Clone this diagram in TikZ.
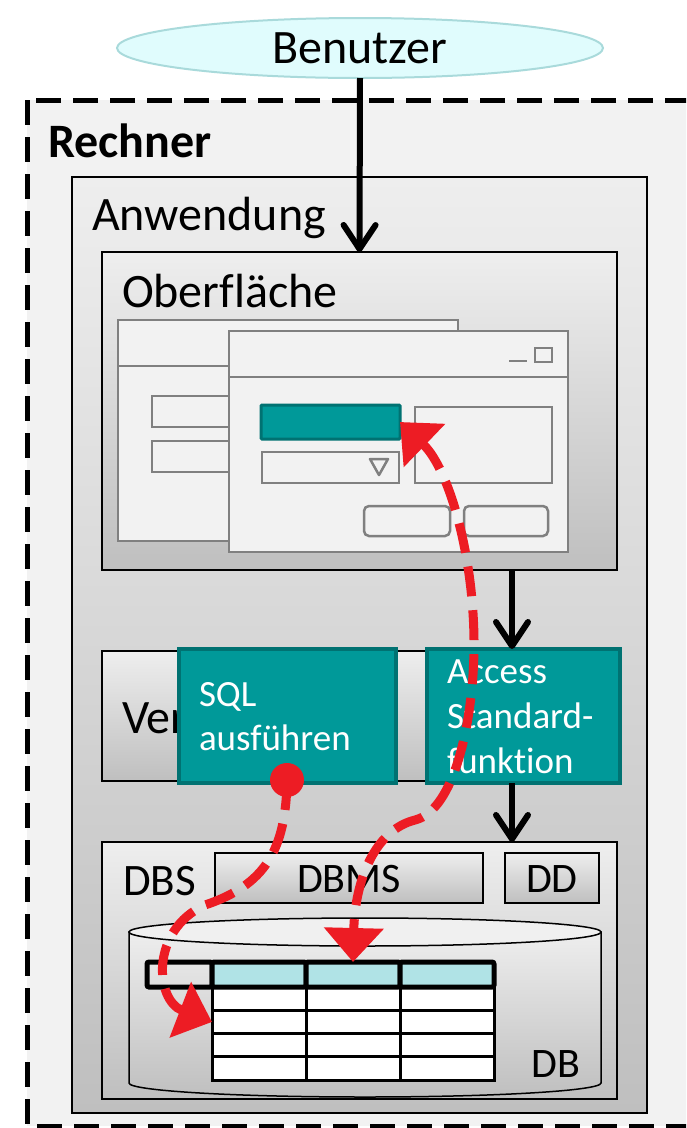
\documentclass[tikz,border=0pt]{standalone}
\usepackage{fontspec}
\setmainfont{Carlito}[Ligatures={NoCommon,NoContextual}]
\usetikzlibrary{shapes.geometric,arrows.meta}

\definecolor{rechnerbg}{HTML}{F2F2F2}
\definecolor{boxtop}{HTML}{EEEEEE}
\definecolor{boxbot}{HTML}{BFBFBF}
\definecolor{cyltop}{HTML}{F0F0F0}
\definecolor{wingray}{HTML}{808080}
\definecolor{winbg}{HTML}{F2F2F2}
\definecolor{teal}{HTML}{009999}
\definecolor{tealdark}{HTML}{007272}
\definecolor{flowred}{HTML}{ED1C24}
\definecolor{headcyan}{HTML}{B0E3E6}
\definecolor{userfill}{HTML}{E0FCFD}
\definecolor{userborder}{HTML}{A9DADB}

\begin{document}
\begin{tikzpicture}[x=1pt,y=-1pt]
    \tikzstyle{every node}=[inner sep=0pt, outer sep=0pt]
    \tikzstyle{label}=[font=\fontsize{48}{56}\selectfont, anchor=base west]
    \tikzstyle{midlabel}=[font=\fontsize{42}{50}\selectfont, anchor=base]
    \tikzstyle{whitelabel}=[font=\fontsize{37}{44}\selectfont, anchor=base west, text=white]
    \tikzstyle{graybox}=[draw=black, line width=1.5pt, top color=boxtop, bottom color=boxbot, anchor=north west]
    \tikzstyle{tealbox}=[draw=tealdark, line width=4pt, fill=teal, anchor=north west]
    \tikzstyle{win}=[draw=wingray, line width=2.5pt, fill=winbg, anchor=north west]
    \tikzstyle{cell}=[draw=black, line width=3pt, fill=white, anchor=north west, minimum width=94, minimum height=23.3]
    \tikzstyle{hdcell}=[draw=black, line width=5pt, anchor=north west, minimum height=25, rounded corners=2pt]
    \tikzstyle{flow}=[line width=6pt, -{Straight Barb[length=24pt, width=32pt, round]}]
    \tikzstyle{redflow}=[flowred, line width=9pt, dash pattern=on 30pt off 14pt]

    \useasboundingbox (0,0) rectangle (686,1128);
    \clip (0,0) rectangle (686,1128);

    % Rechner
    \draw[fill=rechnerbg, line width=5pt, dash pattern=on 25pt off 12pt] (27,100) rectangle (720,1126);
    \node[label] (rechner) at (48,157) {\bfseries Rechner};

    % Anwendung
    \node[graybox, minimum width=575, minimum height=936] (anw) at (72,177) {};
    \node[label] (anwlbl) at (92,230) {Anwendung};

    % Oberflaeche
    \node[graybox, minimum width=515, minimum height=318] (ober) at (102,252) {};
    \node[label] (oberlbl) at (122,307) {Oberfläche};

    \node[win, minimum width=340, minimum height=221] (backwin) at (118,320) {};
    \draw[wingray, line width=2.5pt] (118,366) -- (458,366);
    \node[win, minimum width=88, minimum height=31] (backf1) at (152,396) {};
    \node[win, minimum width=88, minimum height=31] (backf2) at (152,441) {};

    \node[win, minimum width=339, minimum height=221] (frontwin) at (229,331) {};
    \draw[wingray, line width=2.5pt] (229,377) -- (568,377);
    \draw[wingray, line width=2.5pt] (509,361) -- (527,361);
    \node[win, minimum width=17, minimum height=14] (maxbtn) at (535,348) {};
    \node[draw=tealdark, line width=3pt, fill=teal, anchor=north west, minimum width=139, minimum height=34, rounded corners=1pt] (field) at (261,405) {};
    \node[win, minimum width=137, minimum height=31] (combo) at (262,452) {};
    \draw[wingray, line width=2.5pt, line join=round] (370,459) -- (388,459) -- (379,475) -- cycle;
    \node[win, minimum width=137, minimum height=76] (textarea) at (415,407) {};
    \node[win, minimum width=86, minimum height=30, rounded corners=5pt] (okbtn) at (364,506) {};
    \node[win, minimum width=84, minimum height=30, rounded corners=5pt] (cancelbtn) at (464,506) {};

    % Ver / SQL / Access
    \node[graybox, minimum width=328, minimum height=130] (ver) at (102,651) {};
    \node[label] (verlbl) at (122,733) {Ver};
    \node[tealbox, minimum width=217, minimum height=134] (sql) at (179,649) {};
    \node[whitelabel] (sql1) at (199,706) {SQL};
    \node[whitelabel] (sql2) at (199,750) {ausführen};
    \node[tealbox, minimum width=193, minimum height=134] (access) at (427,649) {};
    \node[whitelabel] (acc1) at (447,683) {Access};
    \node[whitelabel] (acc2) at (447,728) {Standard-};
    \node[whitelabel] (acc3) at (447,773) {funkt\kern0pt ion};

    % DBS
    \node[graybox, minimum width=515, minimum height=257] (dbs) at (102,842) {};
    \node[label, font=\fontsize{45}{54}\selectfont] (dbslbl) at (123,895) {DBS};
    \node[graybox, minimum width=268, minimum height=50] (dbms) at (215,853) {};
    \node[midlabel] at (dbms.center |- 0,892) {DBMS};
    \node[graybox, minimum width=94, minimum height=50] (dd) at (505,853) {};
    \node[midlabel] at (dd.center |- 0,892) {DD};

    \path[draw=black, line width=1.5pt, top color=boxtop, bottom color=boxbot]
        (129,932) -- (129,1083) arc[start angle=180, end angle=0, x radius=236, y radius=14] -- (601,932) -- cycle;
    \draw[line width=1.5pt, fill=cyltop] (365,932) ellipse[x radius=236, y radius=14];
    \node[midlabel] (dblbl) at (556,1077) {DB};

    \foreach \r/\y in {1/987,2/1010.3,3/1033.6,4/1056.9}
        \foreach \c/\x in {1/212,2/306,3/400}
            \node[cell] (c\r\c) at (\x,\y) {};
    \node[hdcell, minimum width=65] (h0) at (147,962) {};
    \foreach \c/\x in {1/212,2/306,3/400}
        \node[hdcell, fill=headcyan, minimum width=94] (h\c) at (\x,962) {};

    % Benutzer
    \node[ellipse, draw=userborder, fill=userfill, line width=2pt, minimum width=486, minimum height=60,
          font=\fontsize{48}{56}\selectfont] (user) at (360,48) {Benutzer};

    % black arrows
    \coordinate (lane) at (512,0);
    \draw[flow] (user.south) -- (ober.north);
    \draw[flow] (ober.south -| lane) -- (access.north -| lane);
    \draw[flow] (access.south -| lane) -- (dbs.north -| lane);

    % red arrows
    \node[circle, fill=flowred, minimum size=34] (dot) at (287,780) {};
    \draw[redflow, -{Triangle[length=34pt, width=58pt]}] (dot.center)
        .. controls (286,850) and (265,885) .. (205,905)
        .. controls (150,930) and (155,1000) .. (c21.west);
    \draw[redflow, {Triangle[length=34pt, width=58pt]}-{Triangle[length=34pt, width=58pt]}] (field.east)
        .. controls (450,470) and (475,560) .. (474,650)
        .. controls (473,720) and (455,810) .. (415,820)
        .. controls (375,830) and (355,880) .. (h2.north);
\end{tikzpicture}
\end{document}
